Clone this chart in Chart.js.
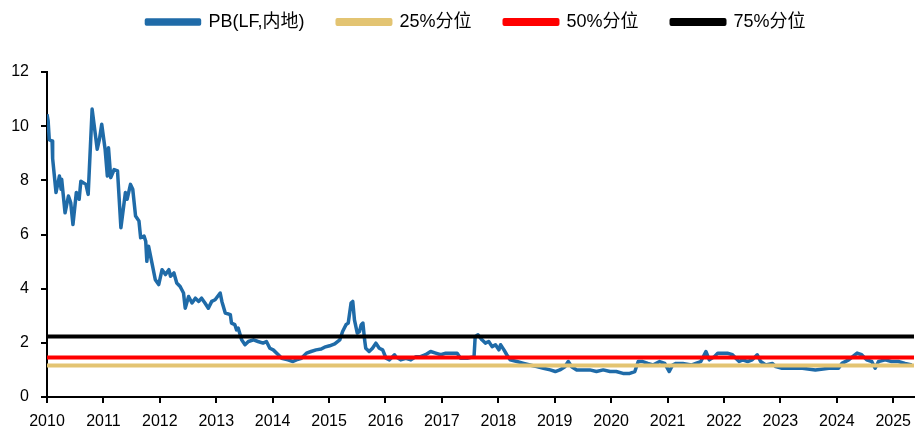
<!DOCTYPE html>
<html>
<head>
<meta charset="utf-8">
<script src="https://cdn.jsdelivr.net/npm/chart.js@4/dist/chart.umd.min.js"></script>
<style>
  html, body { margin: 0; padding: 0; background: #fff; }
  #wrap { width: 920px; height: 433px; position: relative; }
</style>
</head>
<body>
<div id="wrap"><canvas id="pbChart"></canvas></div>
<script>
// decimal years
const years = [
  2010.00, 2010.02, 2010.04, 2010.09, 2010.10, 2010.16, 2010.22, 2010.25, 2010.26, 2010.32,
  2010.38, 2010.42, 2010.46, 2010.52, 2010.57, 2010.60, 2010.69, 2010.73, 2010.80, 2010.89,
  2010.93, 2010.97, 2011.03, 2011.07, 2011.09, 2011.13, 2011.19, 2011.25, 2011.31, 2011.39,
  2011.42, 2011.48, 2011.52, 2011.57, 2011.63, 2011.66, 2011.72, 2011.75, 2011.77, 2011.80,
  2011.86, 2011.92, 2011.98, 2012.04, 2012.10, 2012.16, 2012.19, 2012.25, 2012.30, 2012.36,
  2012.42, 2012.45, 2012.51, 2012.57, 2012.63, 2012.69, 2012.74, 2012.80, 2012.86, 2012.92,
  2012.98, 2013.07, 2013.10, 2013.16, 2013.25, 2013.27, 2013.33, 2013.36, 2013.39, 2013.45,
  2013.51, 2013.57, 2013.66, 2013.74, 2013.83, 2013.89, 2013.95, 2014.01, 2014.10, 2014.16,
  2014.27, 2014.36, 2014.42, 2014.51, 2014.60, 2014.68, 2014.77, 2014.86, 2014.92, 2015.01,
  2015.10, 2015.19, 2015.24, 2015.30, 2015.34, 2015.39, 2015.42, 2015.45, 2015.50, 2015.54,
  2015.57, 2015.60, 2015.63, 2015.65, 2015.71, 2015.77, 2015.83, 2015.89, 2015.95, 2016.01,
  2016.07, 2016.16, 2016.18, 2016.27, 2016.36, 2016.45, 2016.54, 2016.62, 2016.71, 2016.80,
  2016.89, 2016.98, 2017.07, 2017.15, 2017.27, 2017.33, 2017.45, 2017.57, 2017.59, 2017.64,
  2017.71, 2017.77, 2017.83, 2017.89, 2017.95, 2018.01, 2018.04, 2018.10, 2018.15, 2018.21,
  2018.33, 2018.45, 2018.56, 2018.68, 2018.80, 2018.92, 2019.01, 2019.09, 2019.18, 2019.24,
  2019.30, 2019.39, 2019.51, 2019.62, 2019.74, 2019.86, 2019.98, 2020.09, 2020.21, 2020.33,
  2020.42, 2020.48, 2020.56, 2020.65, 2020.74, 2020.86, 2020.95, 2021.03, 2021.09, 2021.15,
  2021.27, 2021.42, 2021.50, 2021.59, 2021.68, 2021.74, 2021.83, 2021.89, 2021.98, 2022.06,
  2022.15, 2022.21, 2022.27, 2022.33, 2022.42, 2022.50, 2022.59, 2022.65, 2022.74, 2022.86,
  2022.92, 2023.03, 2023.21, 2023.39, 2023.62, 2023.86, 2024.03, 2024.09, 2024.21, 2024.36,
  2024.44, 2024.53, 2024.62, 2024.68, 2024.74, 2024.86, 2024.97, 2025.09, 2025.21, 2025.33
];

const pbValues = [
  10.44, 10.2, 9.5, 9.45, 8.8, 7.55, 8.16, 7.67, 8.04, 6.8,
  7.42, 7.18, 6.37, 7.55, 7.3, 7.97, 7.85, 7.48, 10.63, 9.15,
  9.52, 10.07, 9.15, 8.16, 9.2, 8.1, 8.4, 8.35, 6.25, 7.55,
  7.3, 7.85, 7.67, 6.68, 6.5, 5.88, 5.94, 5.75, 5.01, 5.57,
  4.95, 4.33, 4.15, 4.7, 4.52, 4.7, 4.46, 4.58, 4.21, 4.08,
  3.84, 3.28, 3.71, 3.47, 3.65, 3.53, 3.65, 3.47, 3.28, 3.53,
  3.59, 3.84, 3.53, 3.1, 3.04, 2.73, 2.67, 2.48, 2.54, 2.11,
  1.93, 2.05, 2.11, 2.05, 1.99, 2.05, 1.8, 1.74, 1.56, 1.43,
  1.37, 1.31, 1.37, 1.43, 1.62, 1.68, 1.74, 1.77, 1.84, 1.89,
  1.96, 2.11, 2.42, 2.67, 2.73, 3.47, 3.53, 2.85, 2.36, 2.42,
  2.67, 2.73, 2.11, 1.8, 1.68, 1.8, 1.99, 1.8, 1.74, 1.43,
  1.37, 1.56, 1.49, 1.37, 1.43, 1.37, 1.49, 1.49, 1.56, 1.68,
  1.62, 1.56, 1.62, 1.62, 1.62, 1.43, 1.43, 1.49, 2.23, 2.3,
  2.11, 1.99, 2.05, 1.86, 1.93, 1.74, 1.93, 1.74, 1.56, 1.37,
  1.31, 1.24, 1.18, 1.12, 1.06, 1.0, 0.94, 1.0, 1.12, 1.31,
  1.12, 1.0, 1.0, 1.0, 0.94, 1.0, 0.94, 0.94, 0.87, 0.87,
  0.94, 1.31, 1.31, 1.24, 1.18, 1.31, 1.24, 0.94, 1.18, 1.24,
  1.24, 1.18, 1.24, 1.31, 1.68, 1.37, 1.49, 1.62, 1.62, 1.62,
  1.56, 1.43, 1.31, 1.37, 1.31, 1.37, 1.56, 1.31, 1.18, 1.24,
  1.12, 1.06, 1.06, 1.06, 1.0, 1.06, 1.06, 1.24, 1.37, 1.62,
  1.56, 1.37, 1.31, 1.06, 1.31, 1.37, 1.31, 1.31, 1.24, 1.18
];

// percentile levels
const p25 = 1.16;
const p50 = 1.46;
const p75 = 2.23;

const seriesNames = ['PB(LF,内地)', '25%分位', '50%分位', '75%分位'];
const xTicks = [2010, 2011, 2012, 2013, 2014, 2015, 2016, 2017, 2018, 2019, 2020, 2021, 2022, 2023, 2024, 2025];
const yTicks = [0, 2, 4, 6, 8, 10, 12];
const xMin = 2010;
const xMax = 2025.37;

const FONT = "'Liberation Sans', Arial, 'Noto Sans CJK SC', sans-serif";

const pbPoints = years.map((x, i) => ({ x: x, y: pbValues[i] }));
const flat = (v) => [{ x: xMin, y: v }, { x: xMax, y: v }];

// push the plot down below the legend, and nudge the legend right a bit
const legendGap = {
  id: 'legendGap',
  beforeInit(chart) {
    const fit = chart.legend.fit;
    chart.legend.fit = function () {
      fit.call(this);
      this.height += 31;
    };
  },
  afterLayout(chart) {
    chart.legend.left += 16;
    chart.legend.right += 16;
  }
};

const axisGrid = {
  display: true,
  drawOnChartArea: false,
  drawTicks: true,
  tickLength: 6,
  color: '#000',
  lineWidth: 2
};

new Chart(document.getElementById('pbChart'), {
  type: 'line',
  data: {
    datasets: [
      { label: seriesNames[0], data: pbPoints, borderColor: '#1F6BA8', backgroundColor: '#1F6BA8', borderWidth: 3.5, order: 4 },
      { label: seriesNames[1], data: flat(p25), borderColor: '#E3C472', backgroundColor: '#E3C472', borderWidth: 4, order: 3 },
      { label: seriesNames[2], data: flat(p50), borderColor: '#FF0000', backgroundColor: '#FF0000', borderWidth: 4, order: 2 },
      { label: seriesNames[3], data: flat(p75), borderColor: '#000000', backgroundColor: '#000000', borderWidth: 4, order: 1 }
    ]
  },
  options: {
    responsive: true,
    maintainAspectRatio: false,
    animation: false,
    layout: { padding: { top: -20, left: 0, right: 0, bottom: 0 } },
    elements: {
      point: { radius: 0, hoverRadius: 0 },
      line: { tension: 0, borderJoinStyle: 'round', borderCapStyle: 'butt' }
    },
    plugins: {
      tooltip: { enabled: false },
      legend: {
        position: 'top',
        align: 'center',
        labels: {
          boxWidth: 53,
          boxHeight: 4,
          padding: 33,
          color: '#000',
          font: { family: FONT, size: 18 },
          sort: (a, b) => a.datasetIndex - b.datasetIndex
        }
      }
    },
    scales: {
      x: {
        type: 'linear',
        min: xMin,
        max: xMax,
        afterBuildTicks: (scale) => { scale.ticks = xTicks.map(v => ({ value: v })); },
        afterFit: (scale) => { scale.height = 36; },
        grid: axisGrid,
        border: { display: true, color: '#000', width: 2 },
        ticks: {
          autoSkip: false,
          maxRotation: 0,
          padding: 9,
          color: '#000',
          font: { family: FONT, size: 16 },
          callback: (v) => String(v)
        }
      },
      y: {
        min: 0,
        max: 12,
        afterBuildTicks: (scale) => { scale.ticks = yTicks.map(v => ({ value: v })); },
        afterFit: (scale) => { scale.width = 47; },
        grid: axisGrid,
        border: { display: true, color: '#000', width: 2 },
        ticks: {
          padding: 12,
          color: '#000',
          font: { family: FONT, size: 16 },
          callback: (v) => String(v)
        }
      }
    }
  },
  plugins: [legendGap]
});
</script>
</body>
</html>
